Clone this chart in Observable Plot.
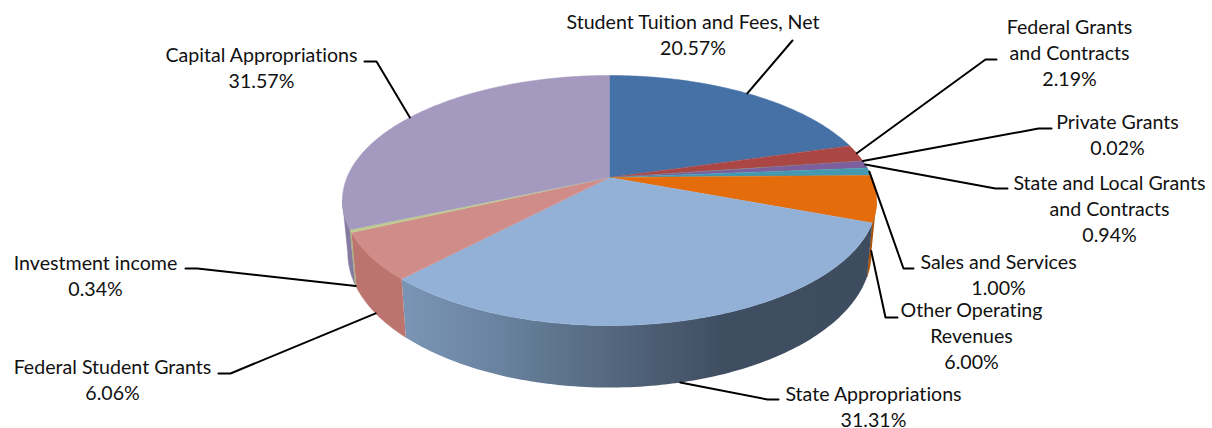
<!DOCTYPE html>
<html><head><meta charset="utf-8">
<style>html,body{margin:0;padding:0;background:#fff;overflow:hidden}svg{display:block}svg text{font-variant-ligatures:none}</style>
<script src="https://cdn.jsdelivr.net/npm/d3@7"></script>
<script src="https://cdn.jsdelivr.net/npm/@observablehq/plot@0.6"></script>
</head><body><div id="chart"></div>
<script>
// Data
const names = ["Student Tuition and Fees, Net","Federal Grants\nand Contracts","Private Grants","State and Local Grants\nand Contracts","Sales and Services","Other Operating\nRevenues","State Appropriations","Federal Student Grants","Investment income","Capital Appropriations"];
const values = [20.57,2.19,0.02,0.94,1.00,6.00,31.31,6.06,0.34,31.57];
// Styles
const topColors = ["#4671A6","#AA4744","#8FAE53","#7C5F9C","#4498AF","#E46C0A","#93B1D7","#D08C89","#BDCB8C","#A499BE"];
const sideColors = ["#34537a","#7d3432","#6a803d","#5b4673","#32707f","#a85007","url(#stateSide)","#BC746F","#a9b67a","#857BA0"];
// Label layout: text centre, then leader elbow and leader end
const labelX = [692.5,1069,1117,1109,998,971,873,112,95,261];
const labelY = [33,51,133,207,273,334.5,405,378,274,66];
const leaderVia = [[[792,40]],[[985,59],[996,59]],[[1038,128],[1051,128]],[[995,188],[1007,188]],[[903,268],[913,268]],[[885,317],[897,317]],[[767,399],[778,399]],[[230,373],[218,373]],[[197,268],[185,268]],[[376,61],[364,61]]];
// Pie projection
const cx=609, cy=177, persp=0.184, ryP=120.8, rxP=262.5, depth=50.6, bottomScale=0.98;
const total=d3.sum(values);
const cum=d3.cumsum(values);
const start=i=>(i?cum[i-1]:0)/total*2*Math.PI;
const end=i=>cum[i]/total*2*Math.PI;
function rim(t,lower){
  const u=Math.sin(t),v=-Math.cos(t),den=1-persp*v;
  let x=rxP*u/den,y=ryP*v/den;
  if(lower){x*=bottomScale;y+=depth/den;}
  return {x:cx+x,y:cy+y};
}
function arc(a,b,lower){
  const n=Math.max(2,Math.ceil((b-a)/(Math.PI/180))),pts=[];
  for(let k=0;k<=n;k++)pts.push(rim(a+(b-a)*k/n,lower));
  return pts;
}
const sideFrom=Math.PI-Math.acos(persp), sideTo=Math.PI+Math.acos(persp);
const sides=[],tops=[];
values.forEach((val,i)=>{
  const a=start(i),b=end(i);
  tops.push({i,pts:[{x:cx,y:cy},...arc(a,b,false)]});
  const s=Math.max(a,sideFrom),e=Math.min(b,sideTo);
  if(e>s)sides.push({i,pts:[...arc(s,e,false),...arc(s,e,true).reverse()]});
});
const leaders=values.map((val,i)=>{
  const m=(start(i)+end(i))/2;
  const p=rim(m,-Math.cos(m)>0);
  return [p,...leaderVia[i].map(([x,y])=>({x,y}))];
});
const labels=names.map((n,i)=>({text:n+"\n"+values[i].toFixed(2)+"%",x:labelX[i],y:labelY[i]}));
const defs=()=>{
  const s=d3.create("svg:defs");
  const g=s.append("linearGradient").attr("id","stateSide").attr("x1",0).attr("x2",1).attr("y1",0).attr("y2",0);
  [[0,"#7A95B5"],[0.2,"#6A83A0"],[0.42,"#566A81"],[0.68,"#404E62"],[1,"#3E4C60"]].forEach(([o,c])=>g.append("stop").attr("offset",o).attr("stop-color",c));
  return s.node();
};
const poly=(pts,color)=>Plot.line(pts,{x:"x",y:"y",fill:color,stroke:color.startsWith("url")?"none":color,strokeWidth:0.5,imageFilter:"blur(0.5px)"});
const chart=Plot.plot({
  width:1212,height:428,margin:0,
  x:{domain:[0,1212],range:[0,1212],axis:null},
  y:{domain:[0,428],range:[0,428],axis:null},
  style:{background:"#fff"},
  marks:[
    defs,
    ...sides.map(d=>poly(d.pts,sideColors[d.i])),
    ...tops.map(d=>poly(d.pts,topColors[d.i])),
    ...leaders.map(p=>Plot.line(p,{x:"x",y:"y",stroke:"#000",strokeWidth:2})),
    Plot.text(labels,{x:"x",y:"y",text:"text",fontFamily:"Lato",fontSize:19.6,lineHeight:1.33,fill:"#111",textAnchor:"middle",lineAnchor:"middle"})
  ]
});
document.getElementById("chart").append(chart);
</script></body></html>
